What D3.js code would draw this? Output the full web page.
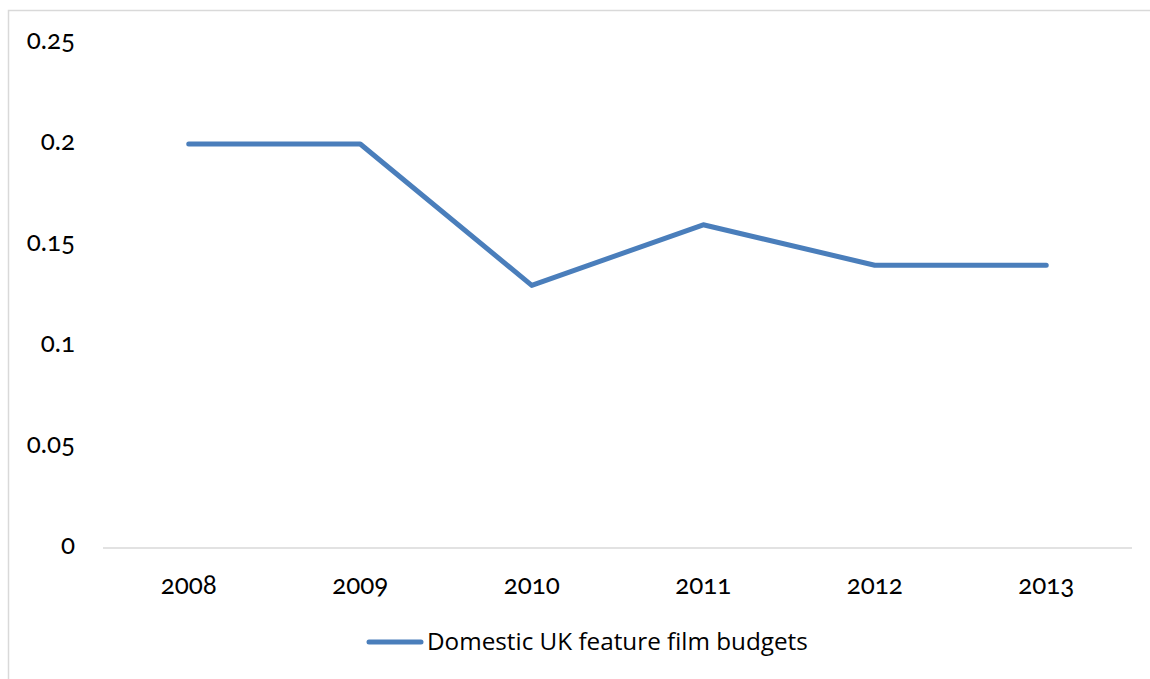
<!DOCTYPE html>
<html>
<head>
<meta charset="utf-8">
<script src="https://cdn.jsdelivr.net/npm/d3@7"></script>
<style>
  html, body { margin: 0; padding: 0; background: #ffffff; }
  svg { display: block; }
  .tick-label { font-family: Lato, "Open Sans", sans-serif; font-size: 26px; fill: #000; font-variant-numeric: oldstyle-nums; font-feature-settings: "onum" 1; }
  .legend-label { font-family: "Open Sans", "Liberation Sans", sans-serif; fill: #000; }
</style>
</head>
<body>
<script>
// Domestic UK feature film budgets by year
const years = ["2008", "2009", "2010", "2011", "2012", "2013"];
const budgets = [0.2, 0.2, 0.13, 0.16, 0.14, 0.14];
const yTicks = [0, 0.05, 0.1, 0.15, 0.2, 0.25];
const yTickLabels = ["0", "0.05", "0.1", "0.15", "0.2", "0.25"];
const seriesName = "Domestic UK feature film budgets";

const W = 1150, H = 679;
const plot = { left: 103, right: 1132, top: 43, bottom: 548 };
const lineColor = "#4a7ebb";

const svg = d3.select("body").append("svg")
  .attr("width", W).attr("height", H);

// chart frame
svg.append("rect")
  .attr("x", 8.5).attr("y", 10.5)
  .attr("width", W + 20).attr("height", H + 20)
  .attr("fill", "none").attr("stroke", "#d9d9d9").attr("stroke-width", 1.5);

const x = d3.scaleBand().domain(years).range([plot.left, plot.right]);
const y = d3.scaleLinear().domain([0, 0.25]).range([plot.bottom, plot.top]);

// category axis line
svg.append("line")
  .attr("x1", plot.left).attr("x2", plot.right)
  .attr("y1", y(0)).attr("y2", y(0))
  .attr("stroke", "#d9d9d9").attr("stroke-width", 1.5);

// value axis labels
svg.append("g").selectAll("text")
  .data(yTicks)
  .join("text")
  .attr("class", "tick-label")
  .attr("x", 75)
  .attr("y", d => y(d) + 6)
  .attr("text-anchor", "end")
  .text((d, i) => yTickLabels[i]);

// category labels
svg.append("g").selectAll("text")
  .data(years)
  .join("text")
  .attr("class", "tick-label")
  .attr("x", d => x(d) + x.bandwidth() / 2)
  .attr("y", 594)
  .attr("text-anchor", "middle")
  .text(d => d);

// series line
const line = d3.line()
  .x((d, i) => x(years[i]) + x.bandwidth() / 2)
  .y(d => y(d));

svg.append("path")
  .datum(budgets)
  .attr("d", line)
  .attr("fill", "none")
  .attr("stroke", lineColor)
  .attr("stroke-width", 5)
  .attr("stroke-linejoin", "round")
  .attr("stroke-linecap", "round");

// legend
const legend = svg.append("g");
legend.append("line")
  .attr("x1", 369).attr("x2", 421)
  .attr("y1", 642).attr("y2", 642)
  .attr("stroke", lineColor).attr("stroke-width", 5)
  .attr("stroke-linecap", "round");
const lt = legend.append("text")
  .attr("class", "legend-label")
  .attr("x", 427).attr("y", 650)
  .style("font-size", "22px")
  .text(seriesName);
// size the legend text to its measured run
const w = lt.node().getComputedTextLength();
lt.style("font-size", (22 * 381 / w).toFixed(2) + "px");
</script>
</body>
</html>
